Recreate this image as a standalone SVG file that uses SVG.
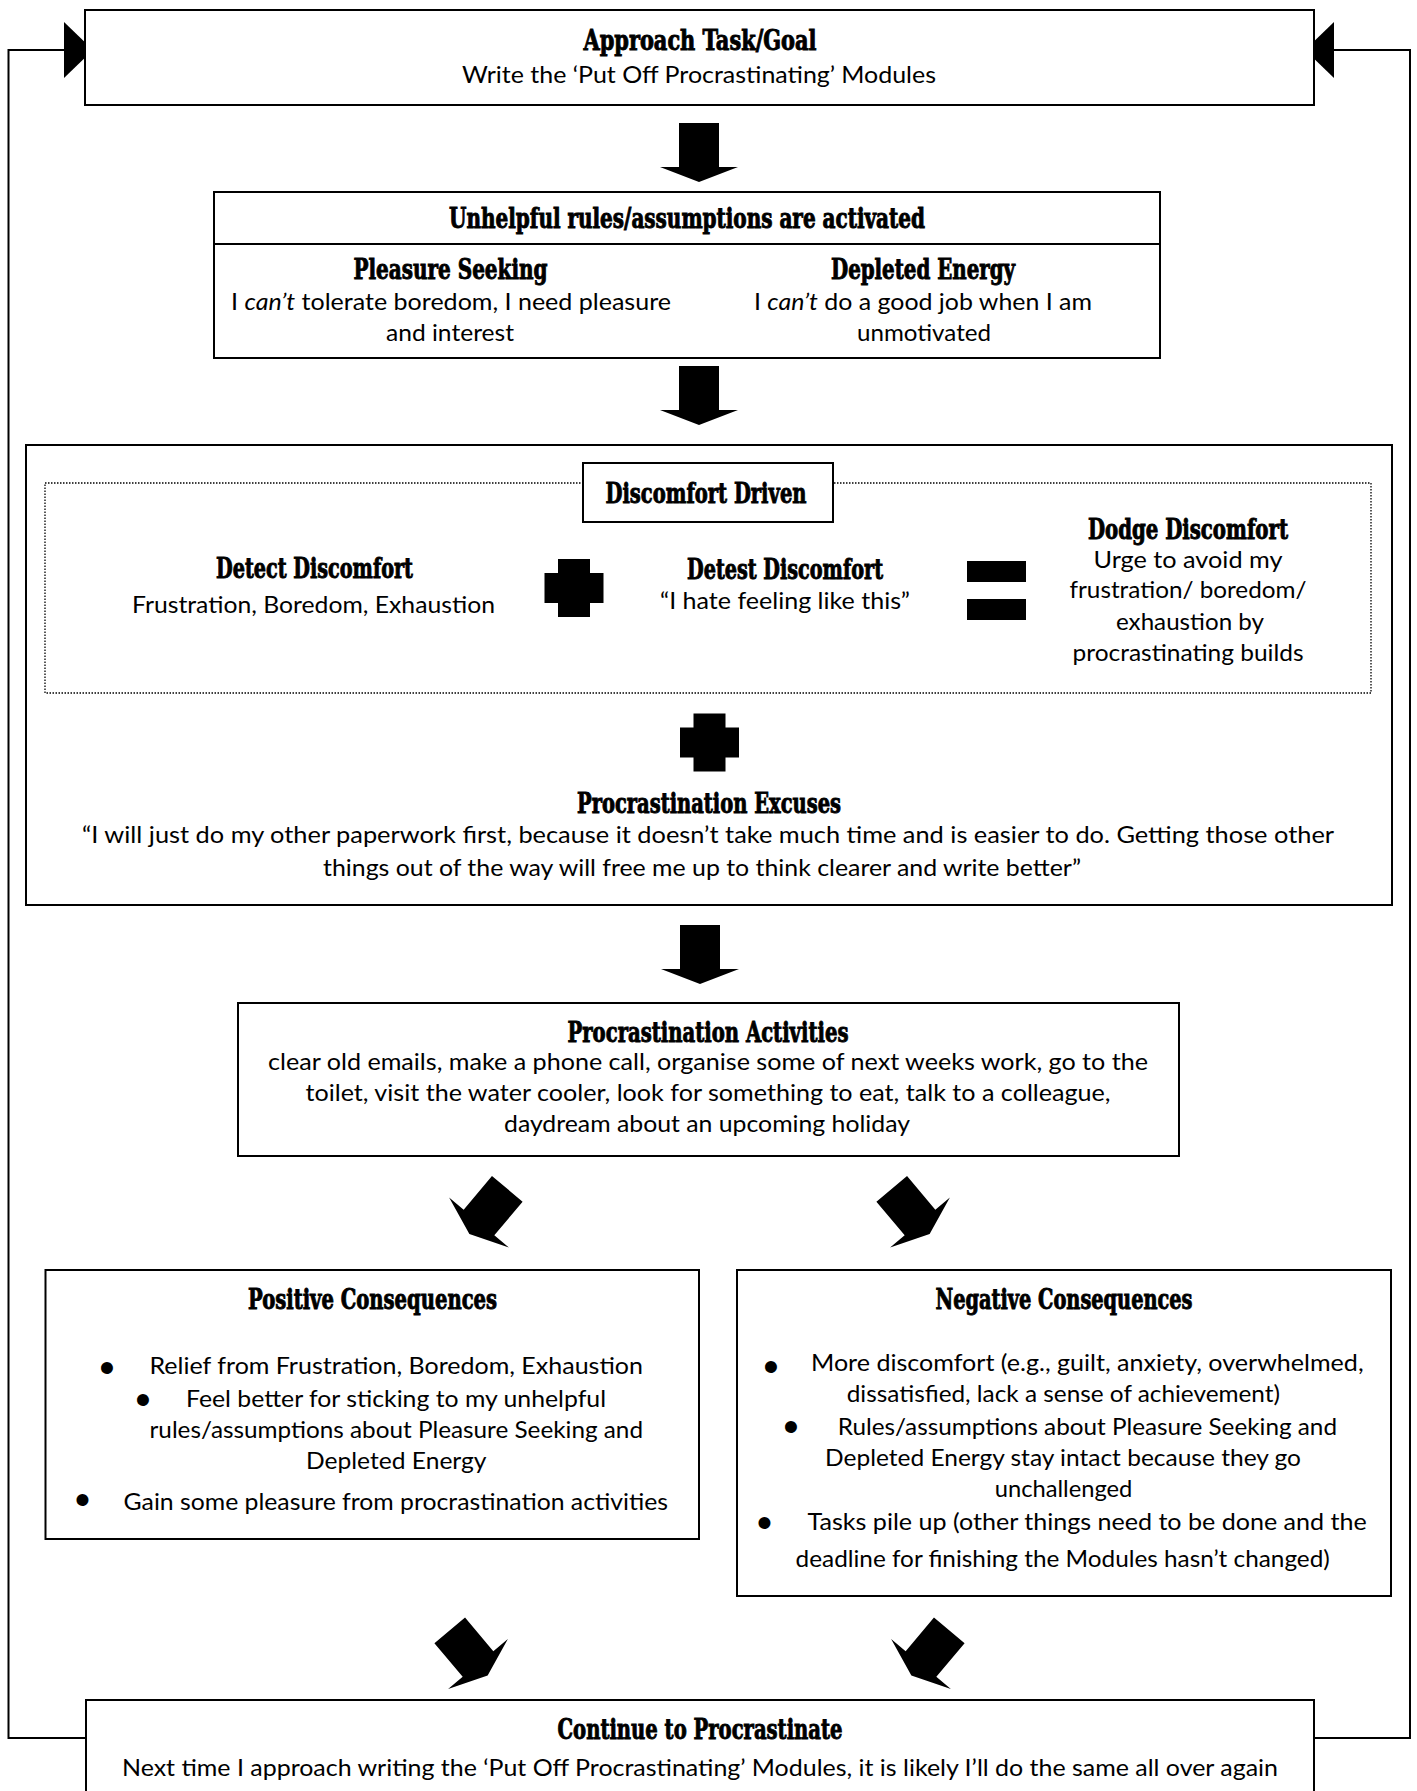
<svg xmlns="http://www.w3.org/2000/svg" xmlns:xlink="http://www.w3.org/1999/xlink" width="1417" height="1791" viewBox="0 0 1417 1791">
<style>
.box{fill:#fff;stroke:#000;stroke-width:2}
.dot{fill:none;stroke:#000;stroke-width:1.3;stroke-dasharray:1.5 1.5}
.h{font-family:"DejaVu Serif Condensed","DejaVu Serif","Liberation Serif",serif;font-weight:bold;font-stretch:condensed;font-size:28px;fill:#000;stroke:#000;stroke-width:0.9}
.b{font-family:Lato,"Open Sans","Liberation Sans",sans-serif;font-size:24px;fill:#000}
.c{text-anchor:middle}
.blt{font-family:"Liberation Sans",Arial,sans-serif;font-size:44px;text-anchor:middle;fill:#000}
.line{fill:none;stroke:#000;stroke-width:2}
.blk{fill:#000}
</style>
<defs>
<path id="arw" d="M-20,-44H20V0H39L0,15L-39,0H-20Z"/>
<path id="plus" d="M-16,-29H16V-15H29.5V15H16V29H-16V15H-29.5V-15H-16Z"/>
<marker id="tri" markerUnits="userSpaceOnUse" markerWidth="32" markerHeight="58" refX="29" refY="28" orient="auto">
<path d="M0,0L29,28L0,56Z" fill="#000"/>
</marker>
</defs>
<rect width="1417" height="1791" fill="#fff"/>

<g id="connectors">
<polyline class="line" points="86,1738 8.5,1738 8.5,50 93,50" marker-end="url(#tri)"/>
<polyline class="line" points="1314,1738 1410,1738 1410,50 1305,50" marker-end="url(#tri)"/>
<use href="#arw" class="blk" transform="translate(699,167)"/>
<use href="#arw" class="blk" transform="translate(699,410)"/>
<use href="#arw" class="blk" transform="translate(700,969)"/>
<use href="#arw" class="blk" transform="translate(479,1222.5) rotate(40)"/>
<use href="#arw" class="blk" transform="translate(920,1222.5) rotate(-40)"/>
<use href="#arw" class="blk" transform="translate(478,1664) rotate(-40)"/>
<use href="#arw" class="blk" transform="translate(921,1664) rotate(40)"/>
</g>

<g id="approach">
<rect class="box" x="85" y="10" width="1229" height="95"/>
<text class="h c" x="700" y="50" textLength="233" lengthAdjust="spacingAndGlyphs">Approach Task/Goal</text>
<text class="b c" x="699" y="83" textLength="474" lengthAdjust="spacingAndGlyphs">Write the ‘Put Off Procrastinating’ Modules</text>
</g>

<g id="rules">
<rect class="box" x="214" y="192" width="946" height="166"/>
<line class="line" x1="214" y1="244" x2="1160" y2="244"/>
<text class="h c" x="687" y="228" textLength="476" lengthAdjust="spacingAndGlyphs">Unhelpful rules/assumptions are activated</text>
<text class="h c" x="450.5" y="279" textLength="194" lengthAdjust="spacingAndGlyphs">Pleasure Seeking</text>
<text class="b c" x="451" y="310" textLength="440" lengthAdjust="spacingAndGlyphs">I <tspan font-style="italic">can’t</tspan> tolerate boredom, I need pleasure</text>
<text class="b c" x="450" y="341" textLength="128" lengthAdjust="spacingAndGlyphs">and interest</text>
<text class="h c" x="923" y="279" textLength="184" lengthAdjust="spacingAndGlyphs">Depleted Energy</text>
<text class="b c" x="923" y="310" textLength="338" lengthAdjust="spacingAndGlyphs">I <tspan font-style="italic">can’t</tspan> do a good job when I am</text>
<text class="b c" x="924" y="341" textLength="134" lengthAdjust="spacingAndGlyphs">unmotivated</text>
</g>

<g id="discomfort">
<rect class="box" x="26" y="445" width="1366" height="460"/>
<rect class="dot" x="45" y="483" width="1326" height="210"/>
<g id="discomfort-driven">
<rect class="box" x="583" y="463" width="250" height="59"/>
<text class="h c" x="706" y="503" textLength="201" lengthAdjust="spacingAndGlyphs">Discomfort Driven</text>
</g>
<g id="detect">
<text class="h c" x="314.5" y="578" textLength="197" lengthAdjust="spacingAndGlyphs">Detect Discomfort</text>
<text class="b c" x="313.5" y="613" textLength="363" lengthAdjust="spacingAndGlyphs">Frustration, Boredom, Exhaustion</text>
</g>
<use href="#plus" class="blk" transform="translate(574,588)"/>
<g id="detest">
<text class="h c" x="785" y="579" textLength="196" lengthAdjust="spacingAndGlyphs">Detest Discomfort</text>
<text class="b c" x="785" y="609" textLength="250" lengthAdjust="spacingAndGlyphs">“I hate feeling like this”</text>
</g>
<rect class="blk" x="967" y="561" width="59" height="21"/>
<rect class="blk" x="967" y="599" width="59" height="21"/>
<g id="dodge">
<text class="h c" x="1188" y="539" font-size="26" textLength="200" lengthAdjust="spacingAndGlyphs">Dodge Discomfort</text>
<text class="b c" x="1188" y="568" textLength="189" lengthAdjust="spacingAndGlyphs">Urge to avoid my</text>
<text class="b c" x="1188" y="598" textLength="237" lengthAdjust="spacingAndGlyphs">frustration/ boredom/</text>
<text class="b c" x="1190" y="630" textLength="148" lengthAdjust="spacingAndGlyphs">exhaustion by</text>
<text class="b c" x="1188" y="661" textLength="231" lengthAdjust="spacingAndGlyphs">procrastinating builds</text>
</g>
<use href="#plus" class="blk" transform="translate(709.5,742.5)"/>
<g id="excuses">
<text class="h c" x="709" y="813" textLength="264" lengthAdjust="spacingAndGlyphs">Procrastination Excuses</text>
<text class="b c" x="708" y="843" textLength="1252" lengthAdjust="spacingAndGlyphs">“I will just do my other paperwork first, because it doesn’t take much time and is easier to do.  Getting those other</text>
<text class="b c" x="702" y="876" textLength="758" lengthAdjust="spacingAndGlyphs">things out of the way will free me up to think clearer and write better”</text>
</g>
</g>

<g id="activities">
<rect class="box" x="238" y="1003" width="941" height="153"/>
<text class="h c" x="708" y="1042" textLength="281" lengthAdjust="spacingAndGlyphs">Procrastination Activities</text>
<text class="b c" x="708" y="1070" textLength="880" lengthAdjust="spacingAndGlyphs">clear old emails, make a phone call, organise some of next weeks work, go to the</text>
<text class="b c" x="708" y="1101" textLength="805" lengthAdjust="spacingAndGlyphs">toilet, visit the water cooler, look for something to eat, talk to a colleague,</text>
<text class="b c" x="707" y="1132" textLength="406" lengthAdjust="spacingAndGlyphs">daydream about an upcoming holiday</text>
</g>

<g id="positive">
<rect class="box" x="45.5" y="1270" width="653.5" height="269"/>
<text class="h c" x="372.5" y="1309" textLength="249" lengthAdjust="spacingAndGlyphs">Positive Consequences</text>
<text class="blt" x="107" y="1383">•</text>
<text class="b" x="149.5" y="1374" textLength="493.5" lengthAdjust="spacingAndGlyphs">Relief from Frustration, Boredom, Exhaustion</text>
<text class="blt" x="143" y="1415">•</text>
<text class="b" x="186" y="1407" textLength="420" lengthAdjust="spacingAndGlyphs">Feel better for sticking to my unhelpful</text>
<text class="b" x="149.5" y="1438" textLength="493.5" lengthAdjust="spacingAndGlyphs">rules/assumptions about Pleasure Seeking and</text>
<text class="b" x="306" y="1469" textLength="180.5" lengthAdjust="spacingAndGlyphs">Depleted Energy</text>
<text class="blt" x="82.5" y="1515">•</text>
<text class="b" x="123.6" y="1510" textLength="544.4" lengthAdjust="spacingAndGlyphs">Gain some pleasure from procrastination activities</text>
</g>

<g id="negative">
<rect class="box" x="737" y="1270" width="654" height="326"/>
<text class="h c" x="1064" y="1309" textLength="257" lengthAdjust="spacingAndGlyphs">Negative Consequences</text>
<text class="blt" x="771" y="1382">•</text>
<text class="b" x="811" y="1371" textLength="552.6" lengthAdjust="spacingAndGlyphs">More discomfort (e.g., guilt, anxiety, overwhelmed,</text>
<text class="b" x="846.7" y="1402" textLength="433.3" lengthAdjust="spacingAndGlyphs">dissatisfied, lack a sense of achievement)</text>
<text class="blt" x="791" y="1442">•</text>
<text class="b" x="837.8" y="1435" textLength="499.2" lengthAdjust="spacingAndGlyphs">Rules/assumptions about Pleasure Seeking and</text>
<text class="b" x="825" y="1466" textLength="476" lengthAdjust="spacingAndGlyphs">Depleted Energy stay intact because they go</text>
<text class="b" x="994.7" y="1497" textLength="137.7" lengthAdjust="spacingAndGlyphs">unchallenged</text>
<text class="blt" x="764.4" y="1538">•</text>
<text class="b" x="807.6" y="1530" textLength="559.1" lengthAdjust="spacingAndGlyphs">Tasks pile up (other things need to be done and the</text>
<text class="b" x="795.6" y="1567" textLength="534.2" lengthAdjust="spacingAndGlyphs">deadline for finishing the Modules hasn’t changed)</text>
</g>

<g id="continue">
<rect class="box" x="86" y="1700" width="1228" height="120"/>
<text class="h c" x="700" y="1739" textLength="285" lengthAdjust="spacingAndGlyphs">Continue to Procrastinate</text>
<text class="b c" x="700" y="1776" textLength="1156" lengthAdjust="spacingAndGlyphs">Next time I approach writing the ‘Put Off Procrastinating’ Modules, it is likely I’ll do the same all over again</text>
</g>
</svg>
